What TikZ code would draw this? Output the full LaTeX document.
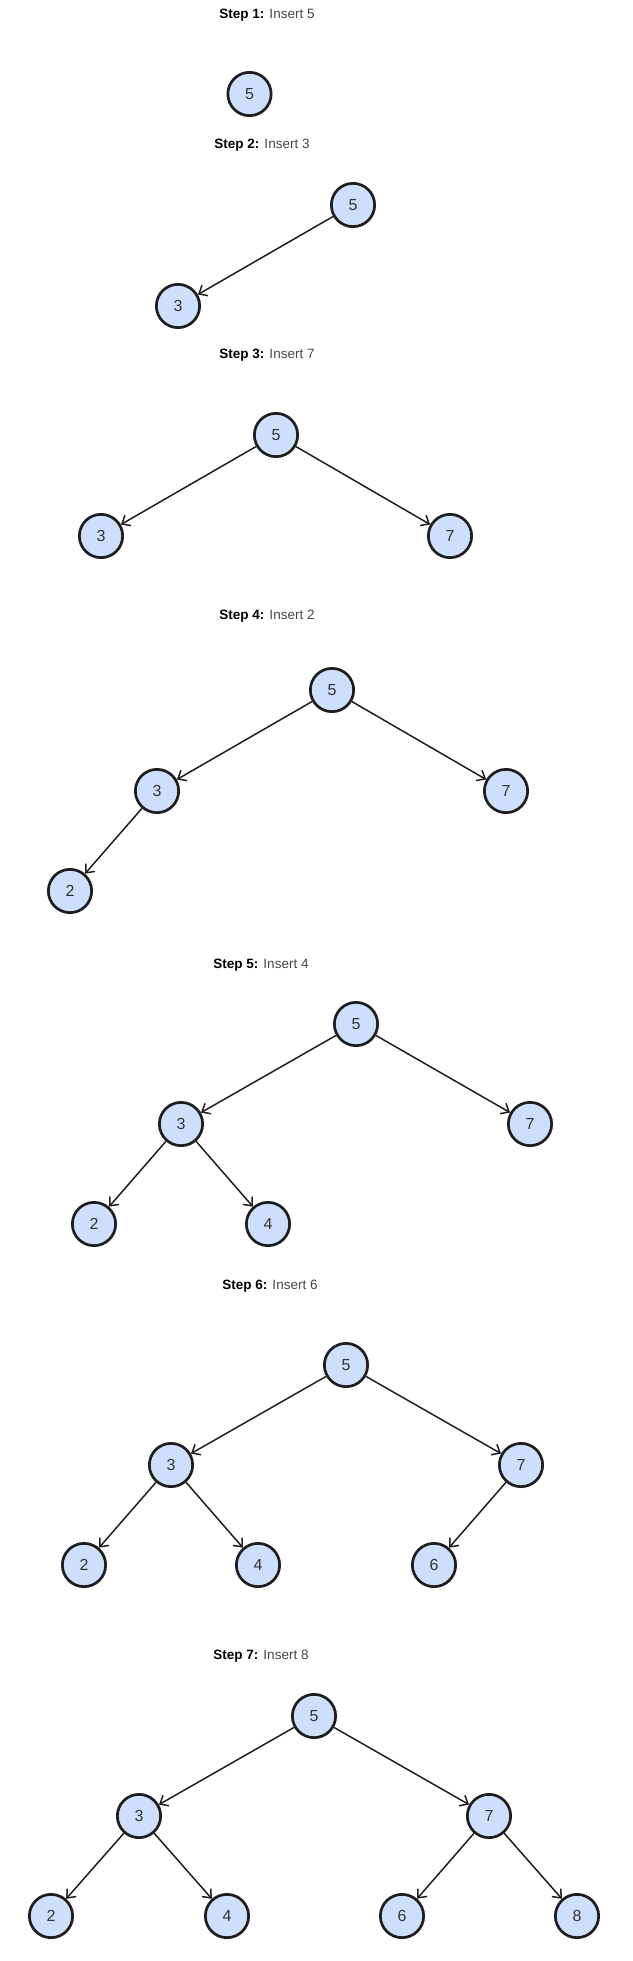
\documentclass[tikz,border=0pt]{standalone}
\usepackage{fontspec}
\setmainfont{Liberation Sans}
\usetikzlibrary{arrows.meta}
\definecolor{nodefill}{RGB}{206,223,252}
\definecolor{nodeline}{RGB}{30,30,30}
\definecolor{edgecol}{RGB}{30,30,30}
\definecolor{ttlgray}{RGB}{70,70,70}
\tikzset{
  bnode/.style={circle, draw=nodeline, fill=nodefill, line width=2.7pt,
    minimum size=43.3pt, inner sep=0pt, font=\fontsize{16}{18}\selectfont, text=black!80},
  ttl/.style={inner sep=0pt, font=\fontsize{13.5}{15}\selectfont},
  edge/.style={draw=edgecol, line width=1.5pt, -{Straight Barb[length=7pt,width=12pt,line width=1.5pt]}}
}
\newcommand{\steptitle}[2]{\textbf{Step #1:} \textcolor{ttlgray}{Insert #2}}
\begin{document}
\begin{tikzpicture}[x=1pt,y=-1pt]
\useasboundingbox (0,0) rectangle (632,1961);
% Step 1
\node[ttl] (t1) at (267,15) {\steptitle{1}{5}};
\node[bnode] (a5) at (249.5,94) {5};
% Step 2
\node[ttl] (t2) at (262,145) {\steptitle{2}{3}};
\node[bnode] (b5) at (353,205) {5};
\node[bnode] (b3) at (178,306) {3};
\draw[edge] (b5) -- (b3);
% Step 3
\node[ttl] (t3) at (267,355) {\steptitle{3}{7}};
\node[bnode] (c5) at (276,435) {5};
\node[bnode] (c3) at (101,536) {3};
\node[bnode] (c7) at (450,536) {7};
\draw[edge] (c5) -- (c3);
\draw[edge] (c5) -- (c7);
% Step 4
\node[ttl] (t4) at (267,616) {\steptitle{4}{2}};
\node[bnode] (d5) at (332,690) {5};
\node[bnode] (d3) at (157,791) {3};
\node[bnode] (d7) at (506,791) {7};
\node[bnode] (d2) at (70,891) {2};
\draw[edge] (d5) -- (d3);
\draw[edge] (d5) -- (d7);
\draw[edge] (d3) -- (d2);
% Step 5
\node[ttl] (t5) at (261,965) {\steptitle{5}{4}};
\node[bnode] (e5) at (356,1024) {5};
\node[bnode] (e3) at (181,1124) {3};
\node[bnode] (e7) at (530,1124) {7};
\node[bnode] (e2) at (94,1224) {2};
\node[bnode] (e4) at (268,1224) {4};
\draw[edge] (e5) -- (e3);
\draw[edge] (e5) -- (e7);
\draw[edge] (e3) -- (e2);
\draw[edge] (e3) -- (e4);
% Step 6
\node[ttl] (t6) at (270,1286) {\steptitle{6}{6}};
\node[bnode] (f5) at (346,1365) {5};
\node[bnode] (f3) at (171,1465) {3};
\node[bnode] (f7) at (521,1465) {7};
\node[bnode] (f2) at (84,1565) {2};
\node[bnode] (f4) at (258,1565) {4};
\node[bnode] (f6) at (434,1565) {6};
\draw[edge] (f5) -- (f3);
\draw[edge] (f5) -- (f7);
\draw[edge] (f3) -- (f2);
\draw[edge] (f3) -- (f4);
\draw[edge] (f7) -- (f6);
% Step 7
\node[ttl] (t7) at (261,1656) {\steptitle{7}{8}};
\node[bnode] (g5) at (314,1716) {5};
\node[bnode] (g3) at (139,1816) {3};
\node[bnode] (g7) at (489,1816) {7};
\node[bnode] (g2) at (51,1916) {2};
\node[bnode] (g4) at (227,1916) {4};
\node[bnode] (g6) at (402,1916) {6};
\node[bnode] (g8) at (577,1916) {8};
\draw[edge] (g5) -- (g3);
\draw[edge] (g5) -- (g7);
\draw[edge] (g3) -- (g2);
\draw[edge] (g3) -- (g4);
\draw[edge] (g7) -- (g6);
\draw[edge] (g7) -- (g8);
\end{tikzpicture}
\end{document}
